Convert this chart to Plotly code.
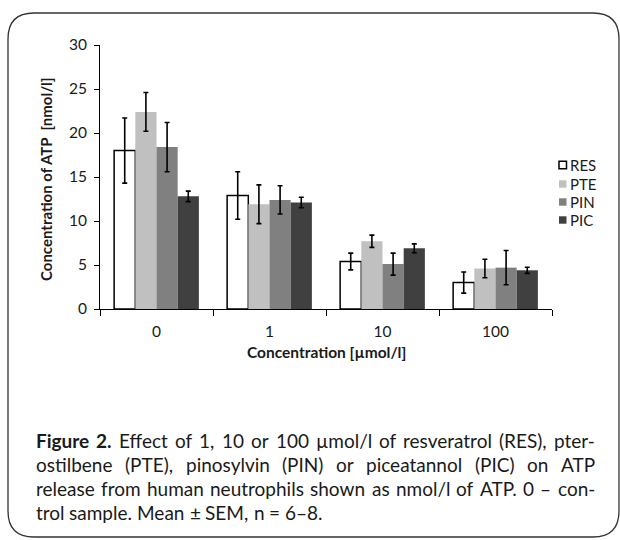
import json
import plotly.graph_objects as go

categories = ["0", "1", "10", "100"]
series_names = ["RES", "PTE", "PIN", "PIC"]
res_vals = [18.0, 12.9, 5.4, 3.0]
res_err = [3.7, 2.7, 0.95, 1.2]
pte_vals = [22.4, 11.9, 7.7, 4.6]
pte_err = [2.2, 2.2, 0.7, 1.05]
pin_vals = [18.4, 12.4, 5.1, 4.7]
pin_err = [2.8, 1.6, 1.25, 1.95]
pic_vals = [12.8, 12.1, 6.9, 4.4]
pic_err = [0.6, 0.6, 0.5, 0.35]
y_ticks = [0, 5, 10, 15, 20, 25, 30]

caption_lines = [
    "**Figure **2. Effect of 1, 10 or 100 µmol/l of resveratrol (RES), pter-",
    "ostilbene (PTE), pinosylvin (PIN) or piceatannol (PIC) on ATP",
    "release from human neutrophils shown as nmol/l of ATP. 0 – con-",
    "trol sample. Mean ± SEM, n = 6–8.",
]

W, H = 620, 540
L, R, T, B = 100, 68, 45, 231
PW, PH = W - L - R, H - T - B


def px(x):
    return (x - L) / PW


def py(y):
    return (H - B - y) / PH


FONT = "Lato"
TXT = "#1a1a1a"
fills = ["#ffffff", "#c0c0c0", "#808080", "#404040"]
lines = ["#000000", "#c0c0c0", "#808080", "#404040"]
vals = [res_vals, pte_vals, pin_vals, pic_vals]
errs = [res_err, pte_err, pin_err, pic_err]

fig = go.Figure()
for name, v, e, f, lc in zip(series_names, vals, errs, fills, lines):
    fig.add_trace(go.Bar(
        x=categories, y=v, name=name, showlegend=False,
        marker=dict(color=f, line=dict(color=lc, width=1.5 if name == "RES" else 0)),
        error_y=dict(type="data", array=e, color="#000000", thickness=1.6, width=2.5),
    ))

fig.update_layout(
    width=W, height=H,
    margin=dict(l=L, r=R, t=T, b=B),
    paper_bgcolor="white", plot_bgcolor="white",
    barmode="group", bargap=0.25, bargroupgap=0,
    font=dict(family=FONT, size=15, color=TXT),
    showlegend=False,
    xaxis=dict(type="category", showline=True, linecolor="#000000", linewidth=1,
               ticks="outside", ticklen=6, tickcolor="#000000", tickson="boundaries",
               ticklabelstandoff=8,
               showgrid=False, tickfont=dict(size=15.5)),
    yaxis=dict(range=[0, 30], tickvals=y_ticks, showline=True, linecolor="#000000",
               linewidth=1, ticks="outside", ticklen=5, tickcolor="#000000",
               ticklabelstandoff=4,
               showgrid=False, zeroline=False, tickfont=dict(size=15.5)),
)

# legend drawn manually
leg_y = [165, 184, 202, 220]
for name, f, lc, yy in zip(series_names, fills, lines, leg_y):
    fig.add_shape(type="rect", xref="paper", yref="paper",
                  x0=px(559), x1=px(566.5), y0=py(yy - 3.7), y1=py(yy + 3.7),
                  fillcolor=f, line=dict(color=lc, width=1.5 if name == "RES" else 0))
    fig.add_annotation(x=px(568), y=py(yy), xref="paper", yref="paper",
                       xanchor="left", yanchor="middle", text=name, showarrow=False,
                       font=dict(family=FONT, size=15, color=TXT))

fig.add_annotation(x=px(46), y=py(179), xref="paper", yref="paper",
                   xanchor="center", yanchor="middle",
                   text="<b>Concentration of ATP  [nmol/l]</b>", textangle=-90,
                   showarrow=False, font=dict(family=FONT, size=15, color=TXT))
fig.add_annotation(x=px(326), y=py(352), xref="paper", yref="paper",
                   xanchor="center", yanchor="middle",
                   text="<b>Concentration [µmol/l]</b>",
                   showarrow=False, font=dict(family=FONT, size=15.5, color=TXT))

# caption: one annotation per word; lines 1-3 are justified in the browser
CAP = 19
CX0, CX1 = 35, 594
line_y = [440, 464, 488, 512]
just = []
for li, (text, yy) in enumerate(zip(caption_lines, line_y)):
    words = text.replace("**Figure **", "**Figure** ").split(" ")
    entries = []
    x = CX0
    for wd in words:
        bold = wd.startswith("**") or (li == 0 and wd == "2.")
        clean = wd.replace("**", "")
        label = f"<b>{clean}</b>" if bold else clean
        idx = len(fig.layout.annotations)
        fig.add_annotation(x=px(x), y=py(yy), xref="paper", yref="paper",
                           xanchor="left", yanchor="middle", text=label,
                           showarrow=False, borderpad=0,
                           font=dict(family=FONT, size=CAP, color=TXT))
        entries.append({"idx": idx, "text": clean, "bold": bold})
        x += (len(clean) + 1) * CAP * 0.45
    just.append({"words": entries, "justify": li < 3})

# rounded frame
x0, x1, y0, y1, r = 8, 619, 13, 537, 26
path = (f"M {px(x0+r)},{py(y0)} L {px(x1-r)},{py(y0)} "
        f"Q {px(x1)},{py(y0)} {px(x1)},{py(y0+r)} L {px(x1)},{py(y1-r)} "
        f"Q {px(x1)},{py(y1)} {px(x1-r)},{py(y1)} L {px(x0+r)},{py(y1)} "
        f"Q {px(x0)},{py(y1)} {px(x0)},{py(y1-r)} L {px(x0)},{py(y0+r)} "
        f"Q {px(x0)},{py(y0)} {px(x0+r)},{py(y0)} Z")
fig.add_shape(type="path", path=path, xref="paper", yref="paper",
              line=dict(color="#333333", width=1.3))

js = """
document.body.style.margin='0px';
(function(){
  var gd = document.getElementById('{plot_id}');
  var lines = %s;
  var size = %s, x0 = %s, x1 = %s, L = %s, PW = %s, fam = '%s';
  var ctx = document.createElement('canvas').getContext('2d');
  function wid(w){ ctx.font = (w.bold ? 'bold ' : '') + size + 'px ' + fam; return ctx.measureText(w.text).width; }
  ctx.font = size + 'px ' + fam;
  var sp = ctx.measureText(' ').width;
  var upd = {};
  lines.forEach(function(ln){
    var ws = ln.words.map(wid);
    var total = ws.reduce(function(a,b){return a+b;}, 0);
    var gap = ln.justify ? Math.max((x1 - x0 - total) / (ln.words.length - 1), sp * 0.7) : sp;
    var x = x0;
    ln.words.forEach(function(w, i){ upd['annotations[' + w.idx + '].x'] = (x - L) / PW; x += ws[i] + gap; });
  });
  Plotly.relayout(gd, upd);
})();
""" % (json.dumps(just), CAP, CX0, CX1, L, PW, FONT)

fig.write_html("out.html", config={"displayModeBar": False}, post_script=js)
